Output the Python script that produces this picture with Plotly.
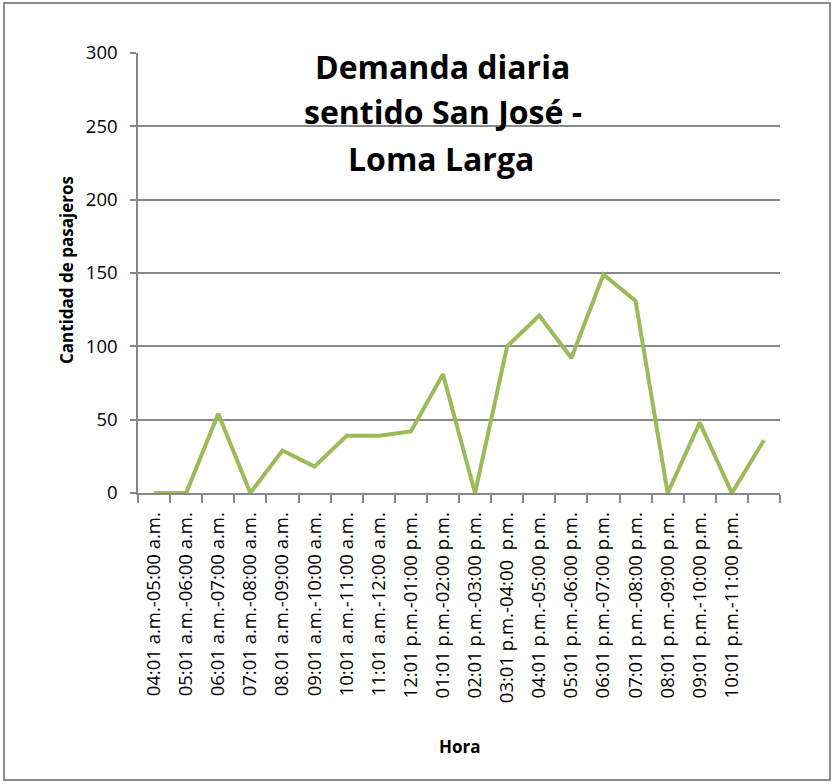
import plotly.graph_objects as go

hours = [
    "04:01 a.m.-05:00 a.m.", "05:01 a.m.-06:00 a.m.", "06:01 a.m.-07:00 a.m.",
    "07:01 a.m.-08:00 a.m.", "08.01 a.m.-09:00 a.m.", "09:01 a.m.-10:00 a.m.",
    "10:01 a.m.-11:00 a.m.", "11:01 a.m.-12:00 a.m.", "12:01 p.m.-01:00 p.m.",
    "01:01 p.m.-02:00 p.m.", "02:01 p.m.-03:00 p.m.", "03:01 p.m.-04:00  p.m.",
    "04:01 p.m.-05:00 p.m.", "05:01 p.m.-06:00 p.m.", "06:01 p.m.-07:00 p.m.",
    "07:01 p.m.-08:00 p.m.", "08:01 p.m.-09:00 p.m.", "09:01 p.m.-10:00 p.m.",
    "10:01 p.m.-11:00 p.m.", "",
]
passengers = [0, 0, 54, 0, 29, 18, 39, 39, 42, 81, 0, 100, 121, 92, 149, 131, 0, 48, 0, 36]
y_ticks = [0, 50, 100, 150, 200, 250, 300]

W, H = 834, 784
L, R, T, B = 138, 54, 53, 291
PW, PH = W - L - R, H - T - B

def px(x):
    return (x - L) / PW

def py(y):
    return (H - B - y) / PH

FONT = "Open Sans"
GRID = "#888888"

idx = list(range(len(passengers)))

fig = go.Figure()
fig.add_trace(go.Scatter(
    x=idx, y=passengers, mode="lines",
    line=dict(color="#9BBB59", width=4),
    hoverinfo="skip", showlegend=False,
))

fig.update_layout(
    width=W, height=H,
    margin=dict(l=L, r=R, t=T, b=B),
    paper_bgcolor="white", plot_bgcolor="white",
    font=dict(family=FONT, color="black"),
    showlegend=False,
    xaxis=dict(
        range=[-0.5, len(passengers) - 0.5],
        tickmode="array", tickvals=idx, ticktext=hours,
        tickangle=-90, ticks="", showgrid=False, zeroline=False,
        showline=True, linecolor=GRID, linewidth=1.5,
        tickfont=dict(family=FONT, size=18.5, color="black"),
        ticklabelstandoff=10,
        minor=dict(tickmode="array",
                   tickvals=[i - 0.5 for i in range(len(passengers) + 1)],
                   ticks="outside", ticklen=8, tickcolor=GRID, tickwidth=1.5,
                   showgrid=False),
        fixedrange=True,
    ),
    yaxis=dict(
        range=[0, 300], tickmode="array", tickvals=y_ticks,
        ticks="outside", ticklen=6, tickcolor=GRID, tickwidth=1.5,
        showgrid=True, gridcolor=GRID, gridwidth=1.5, zeroline=False,
        showline=True, linecolor=GRID, linewidth=1.5,
        tickfont=dict(family=FONT, size=18.5, color="black"),
        ticklabelstandoff=9,
        fixedrange=True,
    ),
    annotations=[
        dict(text="<b>Demanda diaria</b>", xref="paper", yref="paper",
             x=px(442), y=py(66), xanchor="center", yanchor="middle",
             showarrow=False, font=dict(family=FONT, size=32, color="black")),
        dict(text="<b>sentido San José -</b>", xref="paper", yref="paper",
             x=px(443), y=py(111), xanchor="center", yanchor="middle",
             showarrow=False, font=dict(family=FONT, size=32, color="black")),
        dict(text="<b>Loma Larga</b>", xref="paper", yref="paper",
             x=px(441), y=py(158), xanchor="center", yanchor="middle",
             showarrow=False, font=dict(family=FONT, size=32, color="black")),
        dict(text="<b>Cantidad de pasajeros</b>", xref="paper", yref="paper",
             x=px(66), y=py(270), xanchor="center", yanchor="middle",
             textangle=-90, showarrow=False,
             font=dict(family=FONT, size=17, color="black")),
        dict(text="<b>Hora</b>", xref="paper", yref="paper",
             x=px(460), y=py(746), xanchor="center", yanchor="middle",
             showarrow=False, font=dict(family=FONT, size=17, color="black")),
    ],
    shapes=[
        dict(type="rect", xref="paper", yref="paper",
             x0=px(4), x1=px(830), y0=py(780), y1=py(3),
             line=dict(color="#8c8c8c", width=2), fillcolor="rgba(0,0,0,0)",
             layer="below"),
    ],
)

fig.write_html("out.html", config={"displayModeBar": False},
               post_script="document.body.style.margin='0';")
